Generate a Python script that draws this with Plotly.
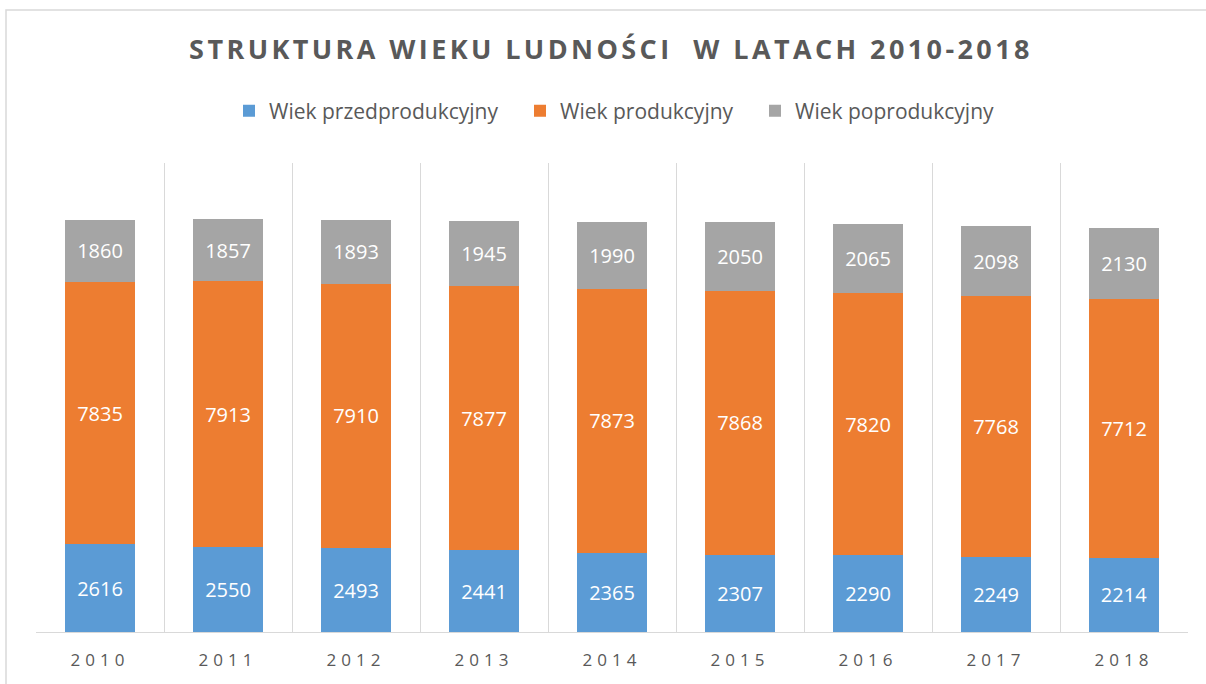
import plotly.graph_objects as go

years = ["2010", "2011", "2012", "2013", "2014", "2015", "2016", "2017", "2018"]
przed = [2616, 2550, 2493, 2441, 2365, 2307, 2290, 2249, 2214]
prod = [7835, 7913, 7910, 7877, 7873, 7868, 7820, 7768, 7712]
popr = [1860, 1857, 1893, 1945, 1990, 2050, 2065, 2098, 2130]

series = [
    ("Wiek przedprodukcyjny", przed, "#5B9BD5", "legend"),
    ("Wiek produkcyjny", prod, "#ED7D31", "legend2"),
    ("Wiek poprodukcyjny", popr, "#A5A5A5", "legend3"),
]

FONT = "Open Sans"
fig = go.Figure()
for name, vals, col, lg in series:
    fig.add_trace(go.Bar(
        x=years, y=vals, name=name, marker=dict(color=col, line=dict(width=0)),
        text=[str(v) for v in vals], textposition="inside", insidetextanchor="middle",
        textfont=dict(color="white", size=20, family=FONT), constraintext="none",
        textangle=0, legend=lg,
    ))

L, R, T, B = 36, 18, 163, 52
W, H = 1206, 684
pw = W - L - R
ph = H - T - B

# legend item left positions (px)
leg_px = [241, 532, 767]


def legend_cfg(px):
    return dict(orientation="h", x=(px - 12) / W, xref="container", xanchor="left",
                y=1 - 111 / H, yref="container", yanchor="middle",
                font=dict(size=21, color="#595959", family=FONT),
                itemsizing="constant", bgcolor="rgba(0,0,0,0)")


fig.update_layout(
    barmode="stack", bargap=0.453,
    width=W, height=H,
    margin=dict(l=L, r=R, t=T, b=B, pad=0),
    paper_bgcolor="white", plot_bgcolor="white",
    font=dict(family=FONT, color="#595959"),
    title=dict(text="<b>STRUKTURA WIEKU LUDNOŚCI  W LATACH 2010-2018</b>",
               x=0.5 + 8 / W, xanchor="center", xref="container",
               y=1 - 50 / H, yanchor="middle", yref="container",
               font=dict(size=27, color="#595959", family=FONT)),
    legend=legend_cfg(leg_px[0]),
    legend2=legend_cfg(leg_px[1]),
    legend3=legend_cfg(leg_px[2]),
    xaxis=dict(type="category", tickson="boundaries", showgrid=True, gridcolor="#D9D9D9",
               gridwidth=1, showline=True, linecolor="#D9D9D9", linewidth=1, ticks="",
               tickfont=dict(size=17, color="#595959", family=FONT), ticklabelstandoff=13),
    yaxis=dict(range=[0, 14000], showgrid=False, showticklabels=False, zeroline=False,
               showline=False, ticks=""),
    showlegend=True,
)

# outer chart border
fig.add_shape(type="rect", xref="paper", yref="paper",
              x0=(6 - L) / pw, x1=(1215 - L) / pw,
              y0=(H - B - 700) / ph, y1=(H - B - 10) / ph,
              line=dict(color="#D9D9D9", width=1.5), fillcolor="rgba(0,0,0,0)", layer="below")

post = """
document.body.style.margin='0';
document.body.style.padding='0';
function spaceText(){
  document.querySelectorAll('.gtitle').forEach(function(e){e.style.letterSpacing='3.4px';});
  document.querySelectorAll('.xtick text').forEach(function(e){e.style.letterSpacing='5px';});
}
spaceText();
var gd = document.getElementsByClassName('plotly-graph-div')[0];
gd.on('plotly_afterplot', spaceText);
"""
fig.write_html("out.html", post_script=post, config={"displayModeBar": False})
